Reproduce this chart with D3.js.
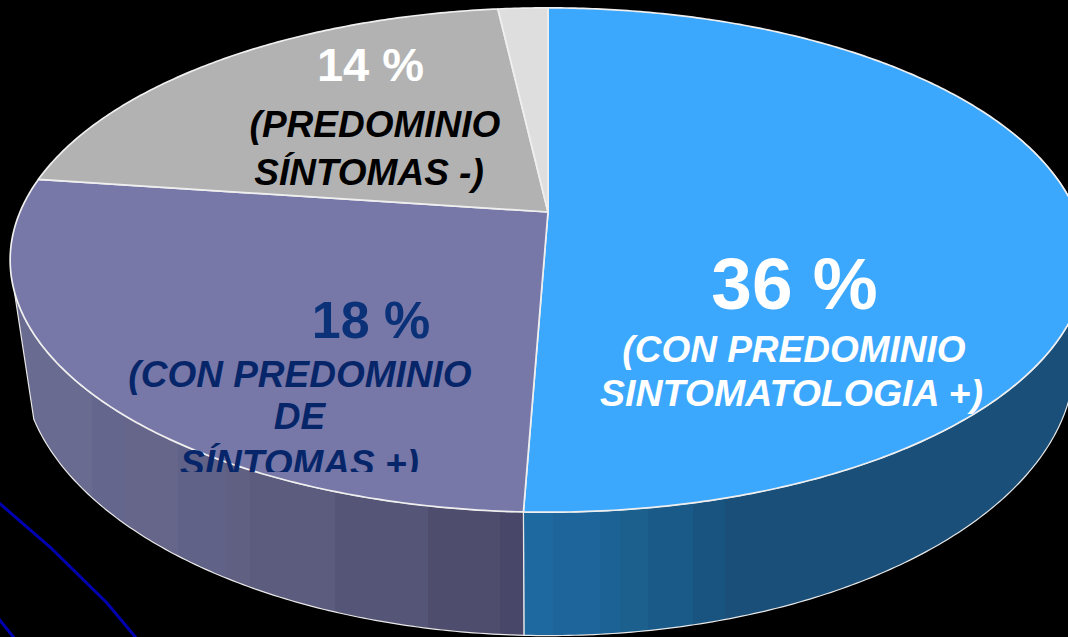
<!DOCTYPE html>
<html>
<head>
<meta charset="utf-8">
<script src="https://cdn.jsdelivr.net/npm/d3@7"></script>
<style>
  html, body { margin: 0; padding: 0; background: #000; overflow: hidden; }
  text { font-family: "Liberation Sans", Arial, sans-serif; font-weight: bold; }
</style>
</head>
<body>
<div id="chart"></div>
<script>
// ---- Data -----------------------------------------------------------
// slice shares (the printed labels do not sum to 100)
const sliceNames = ['sintomatologia+', 'sintomas+', 'sintomas-', 'otros'];
const sliceShares = [50.6, 26.6, 21.0, 1.8];
const sliceColors = ['#3ca8fd', '#7778a8', '#b2b2b2', '#dedede'];

const blueLabel = ['36 %', '(CON PREDOMINIO', 'SINTOMATOLOGIA +)'];
const purpleLabel = ['18 %', '(CON PREDOMINIO', 'DE', 'SÍNTOMAS +)'];
const grayLabel = ['14 %', '(PREDOMINIO', 'SÍNTOMAS -)'];

// stray lines in the lower left corner, as [x, y] in picture units
const strayLineA = [[-2, 502], [50, 547], [107, 603], [137, 639]];
const strayLineB = [[-2, 618], [15, 639]];

async function draw() {
  // ---- Dimensions -----------------------------------------------------
  const dimensions = { width: 1068, height: 637 };

  const svg = d3.select('#chart')
    .append('svg')
    .attr('width', dimensions.width)
    .attr('height', dimensions.height)
    .style('display', 'block');

  const defs = svg.append('defs');

  // ---- Scales ---------------------------------------------------------
  const xScale = d3.scaleLinear().domain([0, 1068]).range([0, dimensions.width]);
  const yScale = d3.scaleLinear().domain([0, 637]).range([0, dimensions.height]);

  // perspective of the tilted disc: back rim is further away
  const persp = 0.1905;
  const topDisc = { x: 548, y: 212, a: 528, b: 243 };
  const baseDisc = { x: 548, y: 307, a: 517, b: 266 };

  const project = (disc, angle) => {
    const X = Math.sin(angle);
    const Y = Math.cos(angle);
    const w = 1 + persp * Y;
    return [disc.x + disc.a * X / w, disc.y - disc.b * Y / w];
  };

  const arcs = d3.pie().sort(null)(sliceShares);
  const line = d3.line();
  const rad = deg => deg * Math.PI / 180;

  const rim = (disc, a0, a1) => {
    const n = Math.ceil(Math.abs(a1 - a0) / 0.01);
    return d3.range(n + 1).map(i => project(disc, a0 + (a1 - a0) * i / n));
  };

  // ---- Side bands -----------------------------------------------------
  // hard colour bands, the side of the original is faceted
  const bands = (id, stops) => {
    const g = defs.append('linearGradient')
      .attr('id', id)
      .attr('gradientUnits', 'userSpaceOnUse')
      .attr('x1', 0).attr('x2', dimensions.width)
      .attr('y1', 0).attr('y2', 0);
    stops.forEach(([x0, x1, c]) => {
      g.append('stop').attr('offset', x0 / dimensions.width).attr('stop-color', c);
      g.append('stop').attr('offset', x1 / dimensions.width).attr('stop-color', c);
    });
  };
  bands('sideBlue', [
    [525, 553, '#1e69a0'], [553, 600, '#1e659b'], [600, 620, '#1d6294'],
    [620, 648, '#1c618d'], [648, 693, '#1a5a88'], [693, 725, '#195480'],
    [725, 1068, '#194f78']
  ]);
  bands('sidePurple', [
    [0, 92, '#6a6b90'], [92, 125, '#65668e'], [125, 178, '#65668a'],
    [178, 225, '#616287'], [225, 250, '#5f6082'], [250, 335, '#5c5c7f'],
    [335, 428, '#555577'], [428, 500, '#4e4d6e'], [500, 525, '#48476a']
  ]);

  // ---- Sides ----------------------------------------------------------
  const sideSlices = [
    { topFrom: 1.2, topTo: arcs[0].endAngle, baseFrom: arcs[0].endAngle, baseTo: 1.2, fill: 'url(#sideBlue)' },
    { topFrom: arcs[1].startAngle, topTo: rad(252), baseFrom: rad(247), baseTo: arcs[1].startAngle, fill: 'url(#sidePurple)' }
  ];

  svg.append('g')
    .selectAll('path')
    .data(sideSlices)
    .join('path')
    .attr('d', d => line(rim(topDisc, d.topFrom, d.topTo).concat(rim(baseDisc, d.baseFrom, d.baseTo))) + 'Z')
    .attr('fill', d => d.fill)
    .attr('stroke', '#e8e8e8')
    .attr('stroke-width', 1.2);

  // ---- Top faces ------------------------------------------------------
  svg.append('g')
    .selectAll('path')
    .data(arcs)
    .join('path')
    .attr('d', d => line([[topDisc.x, topDisc.y]].concat(rim(topDisc, d.startAngle, d.endAngle))) + 'Z')
    .attr('fill', (d, i) => sliceColors[i])
    .attr('stroke', '#efefef')
    .attr('stroke-width', 1.7)
    .attr('stroke-linejoin', 'round');

  // ---- Stray lines ----------------------------------------------------
  const strayLine = d3.line().x(d => xScale(d[0])).y(d => yScale(d[1]));
  svg.append('g')
    .selectAll('path')
    .data([strayLineA, strayLineB])
    .join('path')
    .attr('d', strayLine)
    .attr('fill', 'none')
    .attr('stroke', '#0000b0')
    .attr('stroke-width', 3);

  // ---- Labels ---------------------------------------------------------
  const label = (parent, text, x, y, size, color, italic) => parent.append('text')
    .attr('x', x)
    .attr('y', y)
    .attr('text-anchor', 'middle')
    .attr('font-size', size)
    .attr('font-style', italic ? 'italic' : 'normal')
    .attr('fill', color)
    .text(text);

  label(svg, blueLabel[0], 794.5, 309, 73, '#ffffff', false);
  label(svg, blueLabel[1], 794, 362, 37, '#ffffff', true);
  label(svg, blueLabel[2], 791.5, 406, 37.5, '#ffffff', true);

  label(svg, grayLabel[0], 370.5, 81, 47, '#ffffff', false);
  label(svg, grayLabel[1], 375, 137, 37, '#000000', true);
  label(svg, grayLabel[2], 369, 185, 37, '#000000', true);

  // the last line of this label is cut off in the original
  defs.append('clipPath').attr('id', 'purpleClip')
    .append('rect').attr('x', 0).attr('y', 0)
    .attr('width', dimensions.width).attr('height', 472);
  const purple = svg.append('g').attr('clip-path', 'url(#purpleClip)');
  label(purple, purpleLabel[0], 371, 338, 52, '#0b3278', false);
  label(purple, purpleLabel[1], 300, 387, 37, '#07266a', true);
  label(purple, purpleLabel[2], 299.5, 429, 37, '#07266a', true);
  label(purple, purpleLabel[3], 299.5, 476, 37, '#07266a', true);
}

draw();
</script>
</body>
</html>
